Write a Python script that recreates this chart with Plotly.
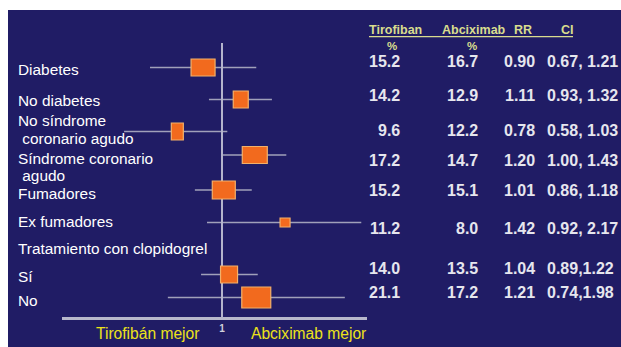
import numpy as np
import plotly.graph_objects as go

# ---- data -------------------------------------------------------------
subgroups = [
    ["Diabetes"],
    ["No diabetes"],
    ["No síndrome", "\u00a0coronario agudo"],
    ["Síndrome coronario", "\u00a0agudo"],
    ["Fumadores"],
    ["Ex fumadores"],
    ["Sí"],
    ["No"],
]
group_heading = "Tratamiento con clopidogrel"
tirofiban_pct = [15.2, 14.2, 9.6, 17.2, 15.2, 11.2, 14.0, 21.1]
abciximab_pct = [16.7, 12.9, 12.2, 14.7, 15.1, 8.0, 13.5, 17.2]
rr = [0.90, 1.11, 0.78, 1.20, 1.01, 1.42, 1.04, 1.21]
ci_low = [0.67, 0.93, 0.58, 1.00, 0.86, 0.92, 0.89, 0.74]
ci_high = [1.21, 1.32, 1.03, 1.43, 1.18, 2.17, 1.22, 1.98]
ci_sep = [", ", ", ", ", ", ", ", ", ", ", ", ",", ","]
column_headers = ["Tirofiban", "Abciximab", "RR", "CI"]
unit_headers = ["%", "%"]
x_tick_vals = [1]
x_tick_text = ["1"]
favours = ["Tirofibán mejor", "Abciximab mejor"]

# ---- layout ------------------------------------------------------------
W, H = 621, 347
NAVY = "#201C65"
ORANGE = "#F26A1E"
YELLOW = "#ECE21A"
HEAD = "#D9DC8E"
NUM = "#E6E6EE"
FONT = "Liberation Sans"

# vertical slot (pixel units on the y axis) of each forest row
row_y = [67.5, 99.5, 131.5, 155, 190, 222.5, 274.5, 297.5]
num_y = [61, 95, 130.7, 160.7, 190, 228, 268, 292]
label_y = [[69], [100], [120.5, 138], [158, 175.5], [193.5], [221], [276], [300]]
heading_y = 248
box_px = [(24, 17), (15, 17), (12, 17), (25, 17), (23, 18), (10, 9), (17, 17), (29, 21)]

# horizontal axis: log scale, 1 at x=222px, 414px per decade
ax_left, ax_right, ax_one, per_dec = 62, 367, 222, 414
x_range = [-(ax_one - ax_left) / per_dec, (ax_right - ax_one) / per_dec]
axis_y = 318


def px(x):
    return x / W


fig = go.Figure()

# confidence-interval whiskers
xs, ys = [], []
for lo, hi, y in zip(ci_low, ci_high, row_y):
    xs += [lo, hi, None]
    ys += [y, y, None]
fig.add_trace(go.Scatter(x=xs, y=ys, mode="lines",
                         line=dict(color="#A0A0BA", width=1.5),
                         hoverinfo="skip", showlegend=False))

shapes = [
    # dark panel
    dict(type="rect", xref="paper", yref="paper", x0=8 / W, x1=1, y0=0, y1=(H - 10) / H,
         fillcolor=NAVY, line=dict(width=0), layer="below"),
    # line of no effect
    dict(type="line", xref="x", yref="y", x0=1, x1=1, y0=43, y1=axis_y,
         line=dict(color="#B4B4CC", width=2), layer="above"),
    # header underline
    dict(type="line", xref="paper", yref="y", x0=px(369), x1=px(573), y0=36.7, y1=36.7,
         line=dict(color=HEAD, width=1.3)),
]
# weight boxes, centred on the RR with a fixed pixel size
for r, y, (w, h) in zip(rr, row_y, box_px):
    hw, hh = w / 2, h / 2
    path = (f"M{-hw},{y - hh} L{hw},{y - hh} L{hw},{y + hh} "
            f"L{-hw},{y + hh} Z")
    shapes.append(dict(type="path", xref="x", yref="y", xsizemode="pixel", xanchor=r,
                       path=path, fillcolor=ORANGE,
                       line=dict(color="#F2B06A", width=1.2), layer="above"))

ann = []
# left labels, one text per line so the leading stays tight
for lines, ys_ in zip(subgroups, label_y):
    for t, y in zip(lines, ys_):
        ann.append(dict(text=t, x=px(18), y=y, xanchor="left", yanchor="middle"))
ann.append(dict(text=group_heading, x=px(18), y=heading_y, xanchor="left", yanchor="middle"))
for a in ann:
    a.update(xref="paper", yref="y", showarrow=False, borderpad=0, borderwidth=0,
             font=dict(family=FONT, size=15.4, color="white"))

# column headers
for t, cx in zip(column_headers, [396, 474.5, 522.5, 567]):
    ann.append(dict(text=t, x=px(cx), y=30, xref="paper", yref="y", showarrow=False,
                    xanchor="center", yanchor="middle",
                    font=dict(family=FONT, size=12.5, color=HEAD, weight="bold")))
for t, cx in zip(unit_headers, [392, 472]):
    ann.append(dict(text=t, x=px(cx), y=45.5, xref="paper", yref="y", showarrow=False,
                    xanchor="center", yanchor="middle",
                    font=dict(family=FONT, size=11.5, color=HEAD, weight="bold")))

# numeric columns
numfont = dict(family=FONT, size=16, color=NUM, weight="bold")
for i, y in enumerate(num_y):
    cells = [
        (f"{tirofiban_pct[i]:.1f}", 402, "right"),
        (f"{abciximab_pct[i]:.1f}", 480, "right"),
        (f"{rr[i]:.2f}", 537, "right"),
        (f"{ci_low[i]:.2f}{ci_sep[i]}{ci_high[i]:.2f}", 545, "left"),
    ]
    for t, cx, anc in cells:
        ann.append(dict(text=t, x=px(cx), y=y, xref="paper", yref="y", showarrow=False,
                        xanchor=anc, yanchor="middle", font=numfont))

# favours captions
for t, cx in zip(favours, [147, 308.5]):
    ann.append(dict(text=t, x=px(cx), y=333, xref="paper", yref="y", showarrow=False,
                    xanchor="center", yanchor="middle",
                    font=dict(family=FONT, size=15.6, color=YELLOW)))

fig.update_layout(
    width=W, height=H,
    margin=dict(l=0, r=0, t=0, b=0),
    paper_bgcolor="white",
    plot_bgcolor="rgba(0,0,0,0)",
    showlegend=False,
    shapes=shapes,
    annotations=ann,
    xaxis=dict(type="log", domain=[px(ax_left), px(ax_right)], range=x_range,
               anchor="free", position=(H - axis_y) / H,
               showline=True, linecolor="#B8B8CC", linewidth=2.5,
               showgrid=False, zeroline=False, ticks="",
               tickvals=x_tick_vals, ticktext=x_tick_text,
               tickfont=dict(family=FONT, size=10, color="#D0D0DC", weight="bold"),
               fixedrange=True),
    yaxis=dict(domain=[0, 1], range=[H, 0], visible=False, showgrid=False,
               zeroline=False, fixedrange=True),
)

fig.write_html("out.html", config={"displayModeBar": False})
